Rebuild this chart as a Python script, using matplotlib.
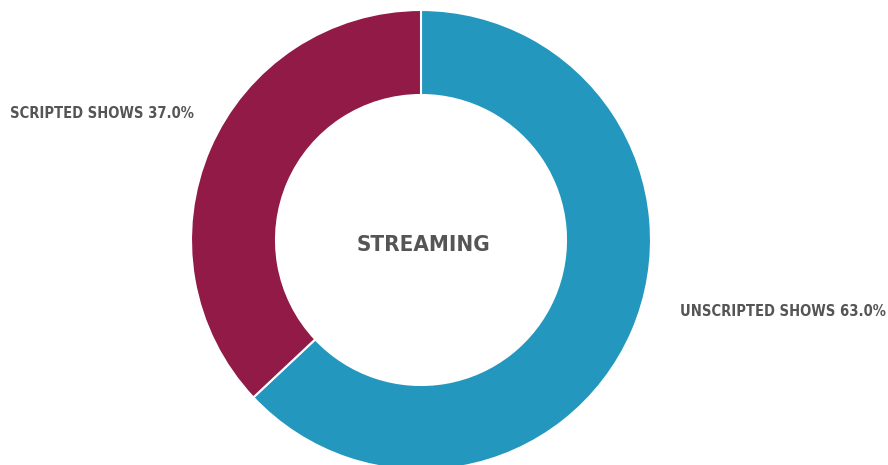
import matplotlib.pyplot as plt

# Data
labels = ['UNSCRIPTED SHOWS', 'SCRIPTED SHOWS']
shares = [63.0, 37.0]
colors = ['#2397BD', '#921A47']
center_title = 'STREAMING'

plt.rcParams['font.family'] = ['DejaVu Sans']

fig = plt.figure(figsize=(8.88, 4.65), dpi=100)
ax = fig.add_axes([0, 0, 1, 1])

cx, cy, r = 421, 225, 230
ax.pie(shares, colors=colors, startangle=90, counterclock=False,
       center=(cx, cy), radius=r, frame=True,
       wedgeprops=dict(width=r - 145, edgecolor='white', linewidth=1.5))
ax.set_xlim(0, 888)
ax.set_ylim(0, 465)
ax.set_aspect('equal')
ax.axis('off')

txt = dict(color='#555555', fontweight='bold', fontstretch='condensed')
ax.text(cx + 2, 220, center_title, ha='center', va='center', fontsize=16, **txt)
ax.text(680, 154, f'{labels[0]} {shares[0]:.1f}%', ha='left', va='center', fontsize=10.5, **txt)
ax.text(10, 352, f'{labels[1]} {shares[1]:.1f}%', ha='left', va='center', fontsize=10.5, **txt)

fig.savefig('out.png', dpi=100)
